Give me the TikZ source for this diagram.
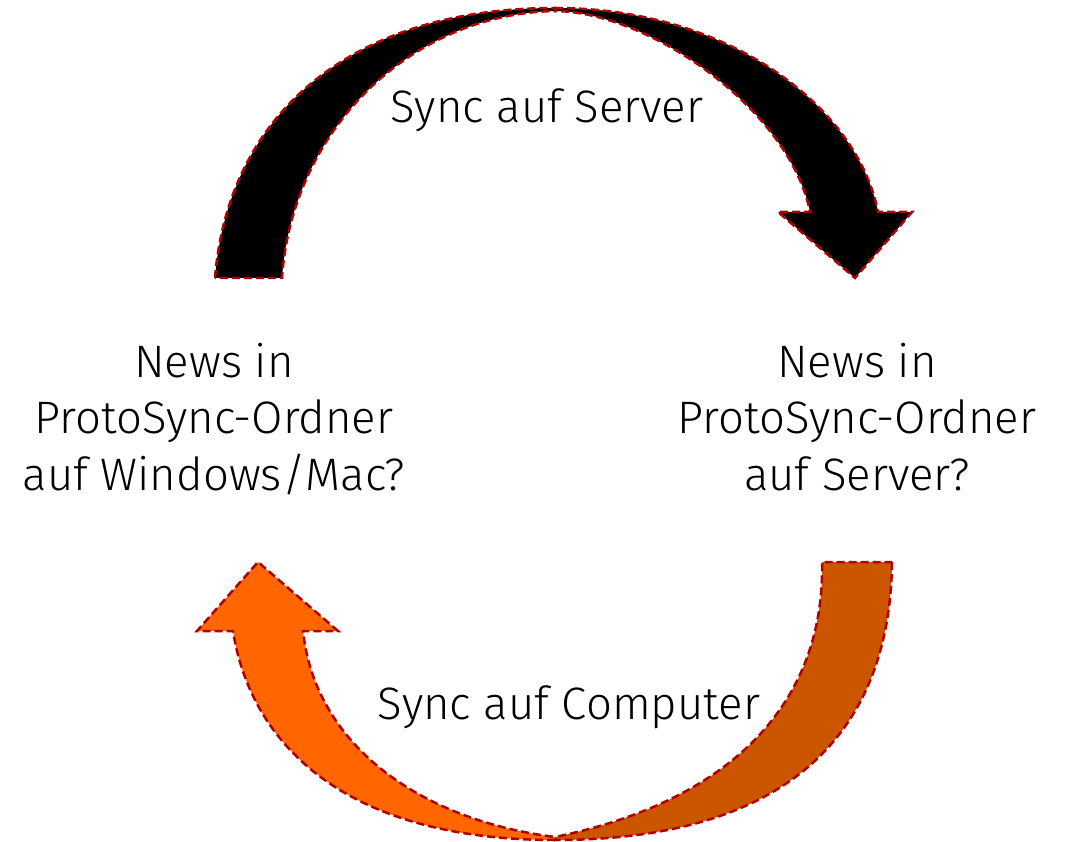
\documentclass[tikz,border=0pt]{standalone}
\usepackage{fontspec}
\setmainfont{Fira Sans Light}
\definecolor{edgered}{HTML}{B00000}
\definecolor{darkor}{HTML}{CC5500}
\definecolor{brightor}{HTML}{FF6600}
\begin{document}
\begin{tikzpicture}[x=1pt,y=-1pt,
  piece/.style={draw=edgered, line width=2.5pt, dash pattern=on 8pt off 4pt, line join=miter},
  lbl/.style={font=\fontsize{45.5}{56.5}\selectfont, align=center, text=black, inner sep=0pt}]
\useasboundingbox (0,0) rectangle (1066,842);
% top arrow, left half
\draw[piece, fill=black] (215,278) .. controls (228,115) and (350,8) .. (555,8)
   -- (555,11) .. controls (410,14) and (292,130) .. (282,278) -- cycle;
% top arrow, right half with head
\draw[piece, fill=black] (555,8) .. controls (730,8) and (858,108) .. (878,212)
   -- (912,212) -- (855,278) -- (778,212) -- (810,212)
   .. controls (790,110) and (650,12) .. (555,11) -- cycle;
% bottom arrow, right half
\draw[piece, fill=darkor] (892,562) .. controls (890,740) and (780,840) .. (555,840)
   -- (555,837) .. controls (735,800) and (825,700) .. (822,562) -- cycle;
% bottom arrow, left half with head
\draw[piece, fill=brightor] (555,840) .. controls (340,840) and (250,740) .. (233,631)
   -- (197,631) -- (258,562) -- (338,631) -- (303,631)
   .. controls (315,745) and (420,820) .. (555,837) -- cycle;
% texts
\node[lbl, anchor=base] (syncserver) at (547,123) {Sync auf Server};
\node[lbl, anchor=base] (synccomp) at (569,719) {Sync auf Computer};
\node[lbl, anchor=base] (client) at (214,490) {News in\\ProtoSync-Ordner\\auf Windows/Mac?};
\node[lbl, anchor=base] (server) at (857,490) {News in\\ProtoSync-Ordner\\auf Server?};
\end{tikzpicture}
\end{document}
